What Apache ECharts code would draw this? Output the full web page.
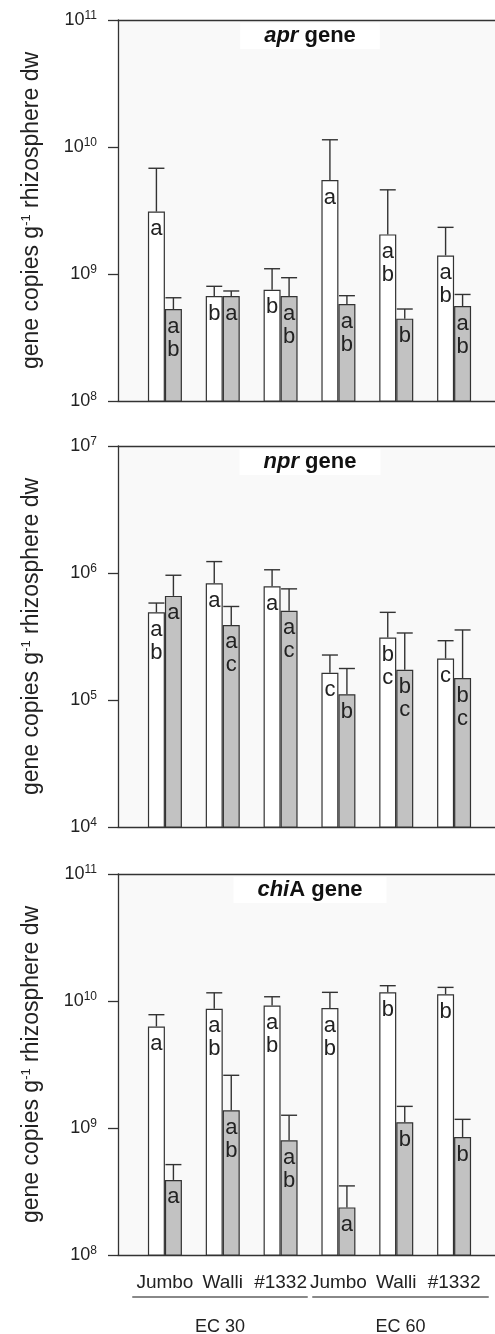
<!DOCTYPE html>
<html>
<head>
<meta charset="utf-8">
<script src="https://cdn.jsdelivr.net/npm/echarts@6/dist/echarts.min.js"></script>
<style>
html, body { margin: 0; padding: 0; background: #fff; }
#chart { width: 495px; height: 1334px; }
</style>
</head>
<body>
<div id="chart"></div>
<script>
var categories = ['Jumbo', 'Walli', '#1332', 'Jumbo', 'Walli', '#1332'];
var groups = ['EC 30', 'EC 60'];

// apr gene: bar value and top of error bar
var aprWhite = [3.1e9, 6.7e8, 7.5e8, 5.5e9, 2.05e9, 1.4e9];
var aprWhiteTop = [6.8e9, 8.0e8, 1.1e9, 1.14e10, 4.6e9, 2.33e9];
var aprGrey = [5.3e8, 6.7e8, 6.7e8, 5.8e8, 4.45e8, 5.6e8];
var aprGreyTop = [6.5e8, 7.35e8, 9.35e8, 6.75e8, 5.3e8, 6.9e8];
var aprWhiteLetters = ['a', 'b', 'b', 'a', 'a\nb', 'a\nb'];
var aprGreyLetters = ['a\nb', 'a', 'a\nb', 'a\nb', 'b', 'a\nb'];

// npr gene
var nprWhite = [4.9e5, 8.3e5, 7.85e5, 1.64e5, 3.1e5, 2.12e5];
var nprWhiteTop = [5.8e5, 1.23e6, 1.06e6, 2.26e5, 4.9e5, 2.93e5];
var nprGrey = [6.6e5, 3.9e5, 5.05e5, 1.11e5, 1.73e5, 1.49e5];
var nprGreyTop = [9.6e5, 5.45e5, 7.5e5, 1.77e5, 3.37e5, 3.56e5];
var nprWhiteLetters = ['a\nb', 'a', 'a', 'c', 'b\nc', 'c'];
var nprGreyLetters = ['a', 'a\nc', 'a\nc', 'b', 'b\nc', 'b\nc'];

// chiA gene
var chiWhite = [6.3e9, 8.7e9, 9.2e9, 8.8e9, 1.17e10, 1.13e10];
var chiWhiteTop = [7.8e9, 1.16e10, 1.08e10, 1.17e10, 1.32e10, 1.28e10];
var chiGrey = [3.9e8, 1.38e9, 8.0e8, 2.37e8, 1.11e9, 8.5e8];
var chiGreyTop = [5.15e8, 2.6e9, 1.26e9, 3.5e8, 1.48e9, 1.17e9];
var chiWhiteLetters = ['a', 'a\nb', 'a\nb', 'a\nb', 'b', 'b'];
var chiGreyLetters = ['a', 'a\nb', 'a\nb', 'a', 'b', 'b'];

var panels = [
    {gene: 'apr', rest: ' gene', min: 1e8, max: 1e11, top: 20,
     white: aprWhite, whiteTop: aprWhiteTop, grey: aprGrey, greyTop: aprGreyTop,
     wl: aprWhiteLetters, gl: aprGreyLetters},
    {gene: 'npr', rest: ' gene', min: 1e4, max: 1e7, top: 446,
     white: nprWhite, whiteTop: nprWhiteTop, grey: nprGrey, greyTop: nprGreyTop,
     wl: nprWhiteLetters, gl: nprGreyLetters},
    {gene: 'chi', rest: 'A gene', min: 1e8, max: 1e11, top: 874,
     white: chiWhite, whiteTop: chiWhiteTop, grey: chiGrey, greyTop: chiGreyTop,
     wl: chiWhiteLetters, gl: chiGreyLetters}
];

var H = 381;
var barW = 17;
var ink = '#333';
var font = 'Liberation Sans, Arial, sans-serif';

var myChart = echarts.init(document.getElementById('chart'));

function errItem(shift) {
    return function (params, api) {
        var c = api.coord([api.value(0), api.value(1)]);
        var t = api.coord([api.value(0), api.value(2)]);
        var x = c[0] + shift;
        return {
            type: 'group',
            children: [
                {type: 'line', shape: {x1: x, y1: c[1], x2: x, y2: t[1]}, style: {stroke: ink, lineWidth: 1.4}},
                {type: 'line', shape: {x1: x - 8, y1: t[1], x2: x + 8, y2: t[1]}, style: {stroke: ink, lineWidth: 1.4}}
            ]
        };
    };
}

function errData(vals, tops) {
    var res = [];
    for (var i = 0; i < vals.length; i++) res.push([i, vals[i], tops[i]]);
    return res;
}

var option = {
    animation: false,
    backgroundColor: '#fff',
    textStyle: {fontFamily: font},
    title: [],
    grid: [],
    xAxis: [],
    yAxis: [],
    series: []
};

panels.forEach(function (p, k) {
    // frame grid: y axis, top and bottom lines
    var fg = option.grid.length;
    option.grid.push({left: 118, right: 0, top: p.top, height: H,
        show: true, backgroundColor: '#f9f9f9', borderWidth: 0});
    option.xAxis.push({gridIndex: fg, type: 'value', position: 'bottom', min: 0, max: 1,
        axisLine: {lineStyle: {color: ink, width: 1.3}}, axisTick: {show: false},
        axisLabel: {show: false}, splitLine: {show: false}});
    option.xAxis.push({gridIndex: fg, type: 'value', position: 'top', min: 0, max: 1,
        axisLine: {lineStyle: {color: ink, width: 1.3}}, axisTick: {show: false},
        axisLabel: {show: false}, splitLine: {show: false}});
    option.yAxis.push({gridIndex: fg, type: 'log', logBase: 10, min: p.min, max: p.max,
        axisLine: {show: true, lineStyle: {color: ink, width: 1.3}},
        axisTick: {show: true, length: 10, lineStyle: {color: ink, width: 1.3}},
        minorTick: {show: false}, splitLine: {show: false},
        axisLabel: {
            margin: 21, color: '#222', fontSize: 18,
            formatter: function (v) {
                return '10{s|' + Math.round(Math.log10(v)) + '}';
            },
            rich: {s: {fontSize: 12, verticalAlign: 'top', padding: [0, 0, 8, 0], color: '#222'}}
        },
        name: 'gene copies g{s|-1} rhizosphere dw',
        nameLocation: 'middle', nameGap: 74,
        nameTextStyle: {fontSize: 23, color: '#222',
            rich: {s: {fontSize: 13, padding: [0, 0, 11, 0], color: '#222'}}}
    });

    // data grid: bars
    var dg = option.grid.length;
    option.grid.push({left: 136, right: 12, top: p.top, height: H});
    var xi = option.xAxis.length;
    option.xAxis.push({gridIndex: dg, type: 'category', data: categories,
        axisLine: {show: false}, axisTick: {show: false},
        axisLabel: {show: k === 2, fontSize: 19, color: '#222', margin: 18, interval: 0}});
    var yi = option.yAxis.length;
    option.yAxis.push({gridIndex: dg, type: 'log', logBase: 10, min: p.min, max: p.max, show: false});

    option.title.push({
        text: '{i|' + p.gene + '}{b|' + p.rest + '}',
        left: 286, top: p.top + 3, textAlign: 'center',
        backgroundColor: '#fff', padding: [2, 24],
        textStyle: {rich: {
            i: {fontSize: 22, fontWeight: 'bold', fontStyle: 'italic', color: '#111', fontFamily: font},
            b: {fontSize: 22, fontWeight: 'bold', color: '#111', fontFamily: font}
        }}
    });

    var lbl = function (letters) {
        return {show: true, position: 'insideTop', distance: 6, fontSize: 22, lineHeight: 23,
            color: '#222', formatter: function (q) { return letters[q.dataIndex]; }};
    };
    option.series.push({type: 'bar', xAxisIndex: xi, yAxisIndex: yi, data: p.white,
        barWidth: barW, barGap: '0%',
        itemStyle: {color: '#fff', borderColor: ink, borderWidth: 1.2},
        label: lbl(p.wl)});
    option.series.push({type: 'bar', xAxisIndex: xi, yAxisIndex: yi, data: p.grey,
        barWidth: barW, barGap: '0%',
        itemStyle: {color: '#c2c2c2', borderColor: ink, borderWidth: 1.2},
        label: lbl(p.gl)});
    option.series.push({type: 'custom', xAxisIndex: xi, yAxisIndex: yi,
        renderItem: errItem(-barW / 2), data: errData(p.white, p.whiteTop), z: 3});
    option.series.push({type: 'custom', xAxisIndex: xi, yAxisIndex: yi,
        renderItem: errItem(barW / 2), data: errData(p.grey, p.greyTop), z: 3});
});

// EC group lines and labels under the bottom panel
[[133, 174], [313, 175]].forEach(function (g, j) {
    var gi = option.grid.length;
    option.grid.push({left: g[0], width: g[1], top: 1296, height: 1});
    option.xAxis.push({gridIndex: gi, type: 'category', data: [groups[j]],
        axisLine: {lineStyle: {color: '#888', width: 2}}, axisTick: {show: false},
        axisLabel: {fontSize: 18, color: '#222', margin: 22}});
    option.yAxis.push({gridIndex: gi, type: 'value', show: false});
});

myChart.setOption(option);
</script>
</body>
</html>
